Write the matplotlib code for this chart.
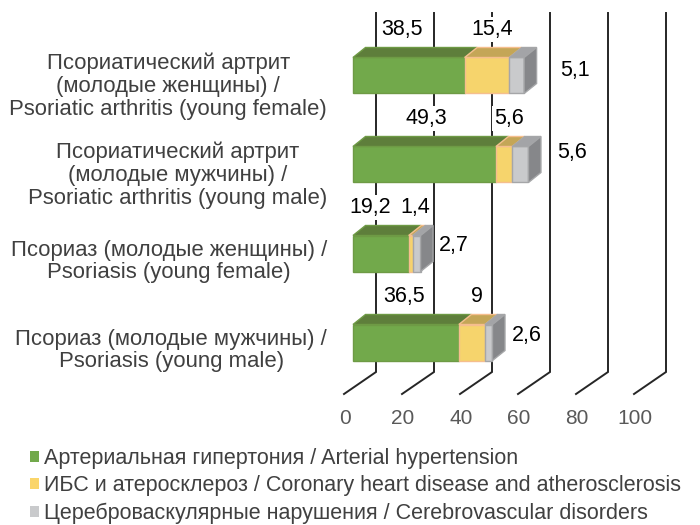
import matplotlib
matplotlib.use("Agg")
import matplotlib.pyplot as plt
from matplotlib.patches import Polygon, Patch

# ---------------- data ----------------
categories = [
    "Псориаз (молодые мужчины) /\nPsoriasis (young male)",
    "Псориаз (молодые женщины) /\nPsoriasis (young female)",
    "Псориатический артрит\n(молодые мужчины) /\nPsoriatic arthritis (young male)",
    "Псориатический артрит\n(молодые женщины) /\nPsoriatic arthritis (young female)",
]
hypertension = [36.5, 19.2, 49.3, 38.5]
coronary = [9.0, 1.4, 5.6, 15.4]
cerebro = [2.6, 2.7, 5.6, 5.1]
series_names = [
    "Артериальная гипертония / Arterial hypertension",
    "ИБС и атеросклероз / Coronary heart disease and atherosclerosis",
    "Цереброваскулярные нарушения / Cerebrovascular disorders",
]
x_ticks = [0, 20, 40, 60, 80, 100]

# ---------------- style ----------------
plt.rcParams['font.family'] = ['Liberation Sans', 'DejaVu Sans']
W, H, DPI = 700, 525, 100
PX_PER_UNIT = 2.9        # horizontal pixels per value unit
X0_PX = 353              # pixel of value 0 on bar front plane
PITCH_PX = 89            # pixels between category centres
TOP_CENTER_PX = 342.5    # pixel (from top) of first category centre

# label nudges in pixels (manual label placement, as in the original)
green_nudge_px = [-8, -17, -4.5, -13]
grey_dx_px = [34.5, 33.5, 43.5, 51]
grey_dy_px = [6.5, 8.5, 12, 5]

ux = 1.0 / PX_PER_UNIT   # value units per pixel
uy = 1.0 / PITCH_PX      # category units per pixel

fig = plt.figure(figsize=(W / DPI, H / DPI), dpi=DPI)
ax = fig.add_axes([0, 0, 1, 1])
ax.set_xlim(-X0_PX * ux, (W - X0_PX) * ux)
ax.set_ylim((TOP_CENTER_PX - H) * uy, TOP_CENTER_PX * uy)
ax.axis('off')

def ypx(p):
    return (TOP_CENTER_PX - p) * uy

# depth of bars and of the wall
dx, dy = 12.5 * ux, 10 * uy
wall_dx = 23 * ux
floor_dx = -9 * ux

grid_col = '#262626'
for v in x_ticks:
    ax.plot([v + wall_dx, v + wall_dx, v + floor_dx],
            [ypx(13), ypx(372), ypx(394)], color=grid_col, lw=1.4,
            zorder=1, solid_joinstyle='miter')
    ax.text(v + floor_dx + 1 * ux, ypx(418), str(v), ha='center', va='center',
            fontsize=15, color='#595959')

front_cols = ['#72A94B', '#F6D46C', '#C9CACC']
top_cols = ['#5E7E3B', '#C4A657', '#A3A4A7']
edge_cols = ['#6E9A45', '#F5BE8E', '#A5A6A8']
side_col = '#86878A'

VAL_FS = 15.5
bar_h = 36 * uy
series = [hypertension, coronary, cerebro]
bb = dict(boxstyle='square,pad=0.08', facecolor='white', edgecolor='none')
for i in range(len(categories)):
    left = 0.0
    y0 = i - bar_h / 2
    y1 = i + bar_h / 2
    for s, vals in enumerate(series):
        w = vals[i]
        ax.barh(i, w, left=left, height=bar_h, color=front_cols[s],
                edgecolor=edge_cols[s], linewidth=1.0, zorder=3 + s)
        top = Polygon([[left, y1], [left + w, y1], [left + w + dx, y1 + dy],
                       [left + dx, y1 + dy]], closed=True,
                      facecolor=top_cols[s], edgecolor=edge_cols[s],
                      linewidth=1.0, zorder=3 + s)
        ax.add_patch(top)
        left += w
    side = Polygon([[left, y0], [left + dx, y0 + dy], [left + dx, y1 + dy],
                    [left, y1]], closed=True, facecolor=side_col,
                   edgecolor=edge_cols[2], linewidth=1.0, zorder=6)
    ax.add_patch(side)

    # value labels
    g = hypertension[i]
    c = coronary[i]
    ax.text(g / 2 + dx / 2 + green_nudge_px[i] * ux, i + 46 * uy,
            f"{g:g}".replace('.', ','), ha='center', va='center',
            fontsize=VAL_FS, color='black', bbox=bb, zorder=8)
    ax.text(g + c / 2 + 5 * ux, i + 46 * uy, f"{c:g}".replace('.', ','),
            ha='center', va='center', fontsize=VAL_FS, color='black',
            bbox=bb, zorder=8)
    ax.text(left + grey_dx_px[i] * ux, i + grey_dy_px[i] * uy,
            f"{cerebro[i]:g}".replace('.', ','), ha='center', va='center',
            fontsize=VAL_FS, color='black', bbox=bb, zorder=8)

    # category labels
    nlines = categories[i].count('\n') + 1
    ax.text(-(X0_PX - 327) * ux, i - (3 + 2.5 * nlines) * uy, categories[i],
            ha='right', va='center', multialignment='center', fontsize=15.9,
            color='#404040', linespacing=1.12)

handles = [Patch(facecolor=front_cols[0], edgecolor='none'),
           Patch(facecolor='#FAD56A', edgecolor='none'),
           Patch(facecolor=front_cols[2], edgecolor='none')]
fig.legend(handles, series_names, loc='upper left',
           bbox_to_anchor=(30 / W, 1 - 448 / H), frameon=False,
           fontsize=15.5, labelcolor='#404040', handlelength=0.44,
           handleheight=0.44, handletextpad=0.2, labelspacing=0.3,
           borderpad=0, borderaxespad=0)

fig.savefig('out.png', dpi=DPI)
